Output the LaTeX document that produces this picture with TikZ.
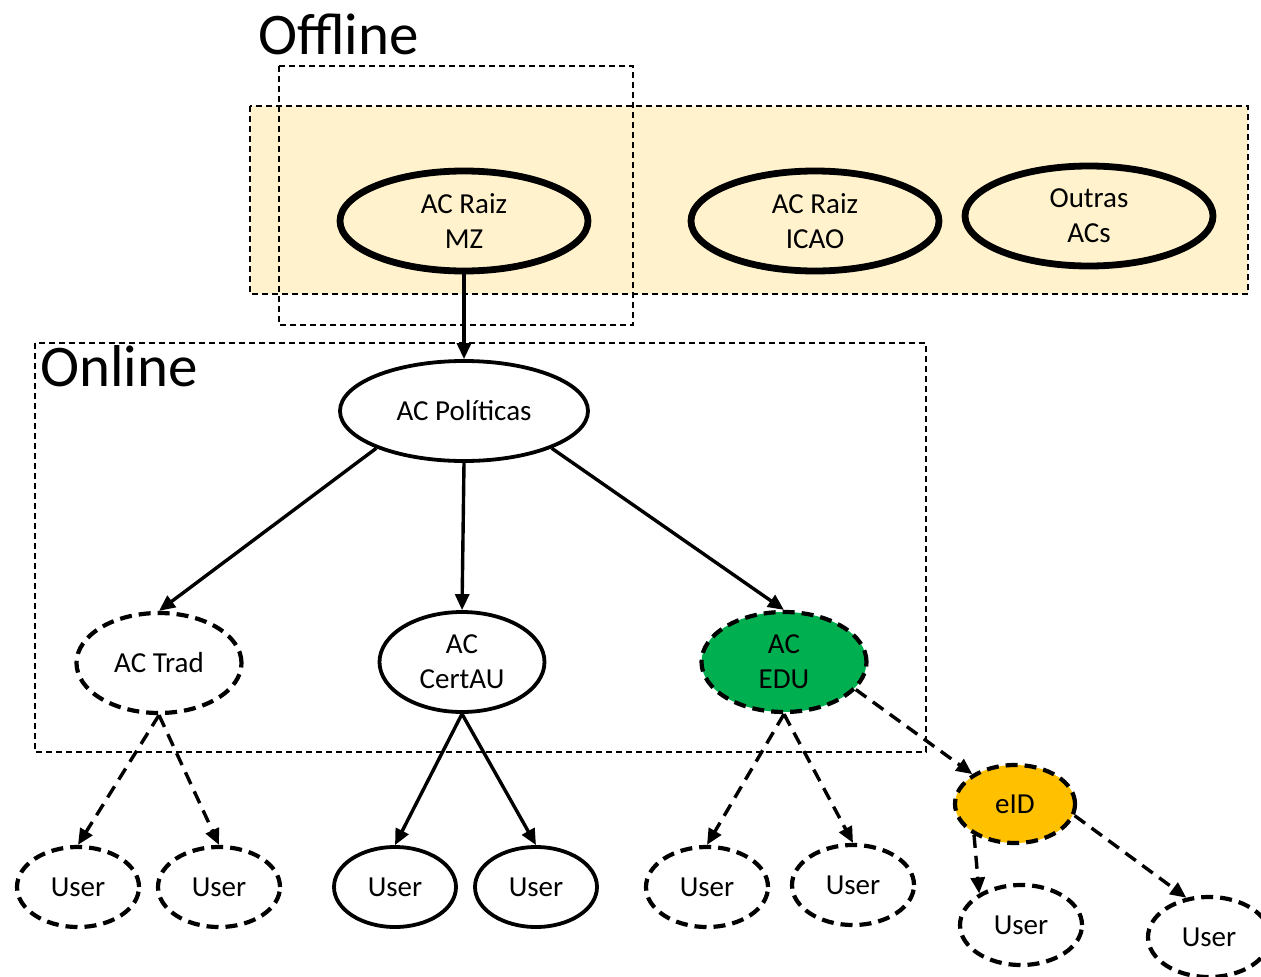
\documentclass[tikz,border=0pt]{standalone}
\usepackage{fontspec}
\setmainfont{Carlito}
\usetikzlibrary{arrows.meta,shapes.geometric}
\definecolor{offy}{HTML}{FFF2CC}
\definecolor{edugreen}{HTML}{00B050}
\definecolor{eidorange}{HTML}{FFC000}
\begin{document}
\begin{tikzpicture}[x=1pt,y=-1pt,
  every node/.style={font=\fontsize{29}{35}\selectfont, align=center, inner sep=0pt},
  ca/.style={ellipse, draw, line width=3.8pt},
  caroot/.style={ellipse, draw, line width=6.8pt},
  cadash/.style={ellipse, draw, line width=4.2pt, dash pattern=on 12pt off 7pt},
  user/.style={ellipse, minimum width=122pt, minimum height=80pt},
  bigel/.style={minimum width=248pt, minimum height=100pt},
  midel/.style={minimum width=165pt, minimum height=100pt},
  boxline/.style={draw, line width=1.4pt, dash pattern=on 6pt off 4pt},
  arr/.style={line width=3.4pt, -{Triangle[length=16pt,width=14pt]}},
  darr/.style={arr, dash pattern=on 13pt off 8pt},
  biglabel/.style={font=\fontsize{59}{62}\selectfont, anchor=base west}
]
\useasboundingbox (0,0) rectangle (1261,977);

% boxes
\fill[offy] (250,106) rectangle (1248,294);
\draw[boxline] (250,106) rectangle (1248,294);
\draw[boxline] (279,66) rectangle (633,325);
\draw[boxline] (35,343) rectangle (926,752);

\node[biglabel] (lbloff) at (258,54) {Offline};
\node[biglabel] (lblon) at (40,386) {Online};

% top roots
\node[caroot, bigel] (mz) at (464,221) {AC Raiz\\MZ};
\node[caroot, bigel] (icao) at (815,221) {AC Raiz\\ICAO};
\node[caroot, bigel] (outras) at (1089,216) {Outras\\ACs};

% online CAs
\node[ca, bigel] (pol) at (464,411) {AC Políticas};
\node[cadash, midel] (trad) at (159,663) {AC Trad};
\node[ca, midel] (cert) at (462,662) {AC\\CertAU};
\node[cadash, midel, fill=edugreen] (edu) at (784,662) {AC\\EDU};
\node[cadash, minimum width=120pt, minimum height=78pt, fill=eidorange] (eid) at (1015,804) {eID};

% users
\node[cadash, user] (u1) at (78,887) {User};
\node[cadash, user] (u2) at (219,887) {User};
\node[ca, user] (u3) at (395,887) {User};
\node[ca, user] (u4) at (536,887) {User};
\node[cadash, user] (u5) at (707,887) {User};
\node[cadash, user] (u6) at (853,885) {User};
\node[cadash, user] (u7) at (1021,925) {User};
\node[cadash, user] (u8) at (1209,937) {User};

% connectors
\draw[arr] (mz.south) -- (pol.north);
\draw[arr] (pol.203) -- (trad.north);
\draw[arr] (pol.south) -- (cert.north);
\draw[arr] (pol.337) -- (edu.north);

\draw[darr] (trad.south) -- (u1.north);
\draw[darr] (trad.south) -- (u2.north);
\draw[arr] (cert.south) -- (u3.north);
\draw[arr] (cert.south) -- (u4.north);
\draw[darr] (edu.south) -- (u5.north);
\draw[darr] (edu.south) -- (u6.north);
\draw[darr] (edu.339) -- (eid.145);
\draw[darr] (eid.217) -- (u7.143);
\draw[darr] (eid.349) -- (u8.120);
\end{tikzpicture}
\end{document}
